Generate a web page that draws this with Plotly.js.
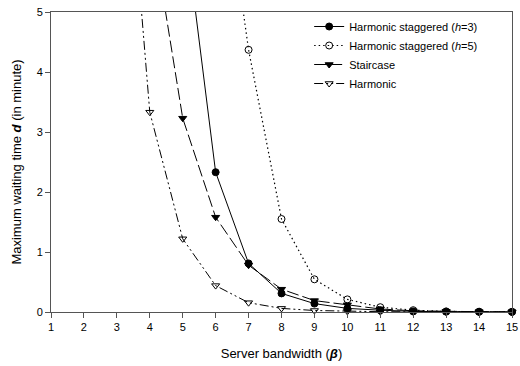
<!DOCTYPE html>
<html><head><meta charset="utf-8">
<script src="https://cdn.plot.ly/plotly-3.0.1.min.js"></script>
<style>html,body{margin:0;padding:0;background:#fff;overflow:hidden}#chart{width:520px;height:366px}</style>
</head><body><div id="chart"></div>
<script>
var hs3X = [5, 6, 7, 8, 9, 10, 11, 12, 13, 14, 15];
var hs3Y = [6.71, 2.33, 0.81, 0.31, 0.14, 0.06, 0.03, 0.01, 0.005, 0.003, 0.002];
var hs5X = [6, 7, 8, 9, 10, 11, 12, 13, 14, 15];
var hs5Y = [8.3, 4.37, 1.55, 0.545, 0.21, 0.08, 0.03, 0.01, 0.005, 0.003];
var stX = [4, 5, 6, 7, 8, 9, 10, 11, 12, 13, 14, 15];
var stY = [6.63, 3.23, 1.58, 0.78, 0.38, 0.19, 0.12, 0.05, 0.02, 0.01, 0.005, 0.003];
var hX = [3, 4, 5, 6, 7, 8, 9, 10, 11, 12, 13, 14, 15];
var hY = [10, 3.33, 1.22, 0.44, 0.155, 0.06, 0.025, 0.01, 0.005, 0.003, 0.002, 0.001, 0.001];
var names = ['Harmonic staggered (<i>h</i>=3)', 'Harmonic staggered (<i>h</i>=5)', 'Staircase', 'Harmonic'];
var xTicks = [1,2,3,4,5,6,7,8,9,10,11,12,13,14,15];
var yTicks = [0,1,2,3,4,5];

var traces = [
  {x: hs3X, y: hs3Y, name: names[0], mode: 'lines+markers',
   line: {color: '#000', width: 1, dash: 'solid'},
   marker: {symbol: 'circle', size: 7, color: '#000', line: {color: '#000', width: 1}}},
  {x: hs5X, y: hs5Y, name: names[1], mode: 'lines+markers',
   line: {color: '#000', width: 1.2, dash: '1.5px,3px'},
   marker: {symbol: 'circle-open', size: 7, color: '#000', line: {color: '#000', width: 1}}},
  {x: stX, y: stY, name: names[2], mode: 'lines+markers',
   line: {color: '#000', width: 1, dash: '12px,4px'},
   marker: {symbol: 'triangle-down', size: 7, color: '#000', line: {color: '#000', width: 1}}},
  {x: hX, y: hY, name: names[3], mode: 'lines+markers',
   line: {color: '#000', width: 1, dash: '9px,3px,2px,3px,2px,3px'},
   marker: {symbol: 'triangle-down-open', size: 7, color: '#000', line: {color: '#000', width: 1}}}
];
traces.forEach(function(t){ t.cliponaxis = false; });

var layout = {
  width: 520, height: 366,
  margin: {l: 51, r: 8, t: 12, b: 54},
  paper_bgcolor: '#fff', plot_bgcolor: '#fff',
  font: {family: 'Liberation Sans, Arial, sans-serif', size: 11, color: '#000'},
  showlegend: true,
  legend: {x: 0.56, y: 1.0, xanchor: 'left', yanchor: 'top', bgcolor: 'rgba(0,0,0,0)',
           font: {size: 11, color: '#000'}, tracegroupgap: 0, itemwidth: 30},
  xaxis: {range: [1, 15], tickvals: xTicks, ticktext: xTicks.map(String),
          showgrid: false, zeroline: false, showline: true, mirror: true,
          linecolor: '#555', linewidth: 1, ticks: 'outside', ticklen: 5, tickcolor: '#555',
          tickfont: {size: 11, color: '#000'}, ticklabeloverflow: 'allow',
          title: {text: 'Server bandwidth (<b><i>β</i></b>)', font: {size: 13, color: '#000'}, standoff: 16}},
  yaxis: {range: [0, 5], tickvals: yTicks, ticktext: yTicks.map(String),
          showgrid: false, zeroline: false, showline: true, mirror: true,
          linecolor: '#555', linewidth: 1, ticks: 'outside', ticklen: 5, tickcolor: '#555',
          tickfont: {size: 11, color: '#000'},
          title: {text: 'Maximum waiting time <b><i>d</i></b> (in minute)', font: {size: 13, color: '#000'}, standoff: 12}}
};
Plotly.newPlot('chart', traces, layout, {displayModeBar: false, staticPlot: true});
</script>
</body></html>
